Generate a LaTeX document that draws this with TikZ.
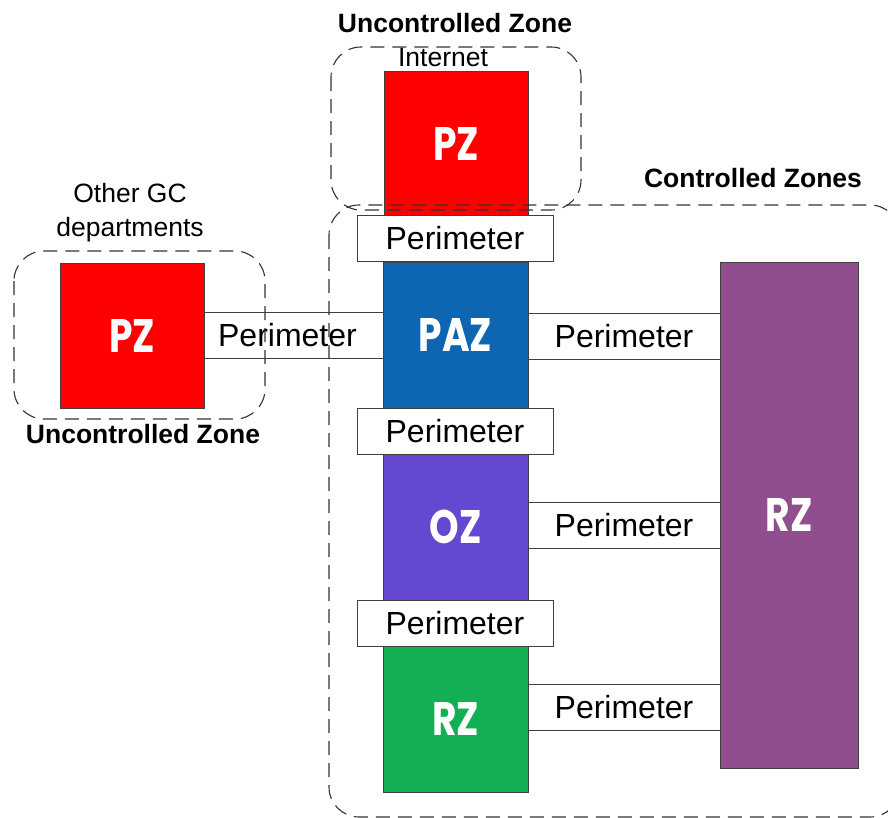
\documentclass[tikz,border=0pt]{standalone}
\usepackage{fontspec}
\setmainfont{Liberation Sans}
\newfontfamily\zonefont[FakeStretch=0.8]{Poppins}
\usetikzlibrary{calc}
\definecolor{pzred}{RGB}{255,0,0}
\definecolor{pazblue}{RGB}{14,101,178}
\definecolor{ozviolet}{RGB}{100,73,208}
\definecolor{rzgreen}{RGB}{19,175,84}
\definecolor{rzpurple}{RGB}{145,78,143}
\tikzset{
  zone/.style={draw=black!75, line width=0.9pt, inner sep=0pt, outer sep=0pt,
    text=white, font=\zonefont\bfseries\fontsize{47}{50}\selectfont},
  perim/.style={draw=black!75, fill=white, line width=0.9pt, inner sep=0pt, outer sep=0pt,
    font=\fontsize{32}{35}\selectfont},
  zonebox/.style={draw=black!80, line width=1.1pt, dash pattern=on 14pt off 8pt, rounded corners=30pt},
  ztitle/.style={font=\bfseries\fontsize{26.5}{30}\selectfont, inner sep=0pt},
  zsub/.style={font=\fontsize{26.5}{34}\selectfont, inner sep=0pt, align=center},
}
\begin{document}
\begin{tikzpicture}[x=1pt,y=-1pt]
\useasboundingbox (0,0) rectangle (888,817);
% zones
\node[zone, fill=pzred, minimum width=144pt, minimum height=145pt] (pzt) at (456,143.5) {PZ};
\node[zone, fill=pazblue, minimum width=145pt, minimum height=146pt] (paz) at (455.5,335) {PAZ};
\node[zone, fill=ozviolet, minimum width=145pt, minimum height=146pt] (oz) at (455.5,527) {OZ};
\node[zone, fill=rzgreen, minimum width=145pt, minimum height=146pt] (rzg) at (455.5,719) {RZ};
\node[zone, fill=rzpurple, minimum width=138pt, minimum height=506pt] (rzp) at (789,515) {RZ};
\node[zone, fill=pzred, minimum width=144pt, minimum height=145pt] (pzl) at (132,335.5) {PZ};
% vertical perimeters
\node[perim, minimum width=196pt, minimum height=46pt] (p1) at (455,238.5) {Perimeter};
\node[perim, minimum width=196pt, minimum height=46pt] (p2) at (455,431) {Perimeter};
\node[perim, minimum width=196pt, minimum height=46pt] (p3) at (455,623) {Perimeter};
% horizontal perimeters
\node[perim, minimum width=179pt, minimum height=46pt] (pl) at ($(pzl.east)!0.5!(paz.west)$) {Perimeter\hspace*{12pt}};
\node[perim, minimum width=192pt, minimum height=46pt] (pa) at (624,336) {Perimeter};
\node[perim, minimum width=192pt, minimum height=46pt] (po) at (624,525) {Perimeter};
\node[perim, minimum width=192pt, minimum height=46pt] (pr) at (624,707.5) {Perimeter};
% dashed zone outlines
\draw[zonebox] (331,47) rectangle (581,210);
\draw[zonebox] (14,251) rectangle (265,419);
\draw[zonebox] (329,205) rectangle (900,817);
% titles
\node[ztitle] (t1) at (455,23) {Uncontrolled Zone};
\node[zsub] (t2) at (443,58) {Internet};
\node[ztitle] (t3) at (753,178) {Controlled Zones};
\node[zsub] (t4) at (130,213) {Other GC\\departments};
\node[ztitle] (t5) at (143,434) {Uncontrolled Zone};
\end{tikzpicture}
\end{document}
